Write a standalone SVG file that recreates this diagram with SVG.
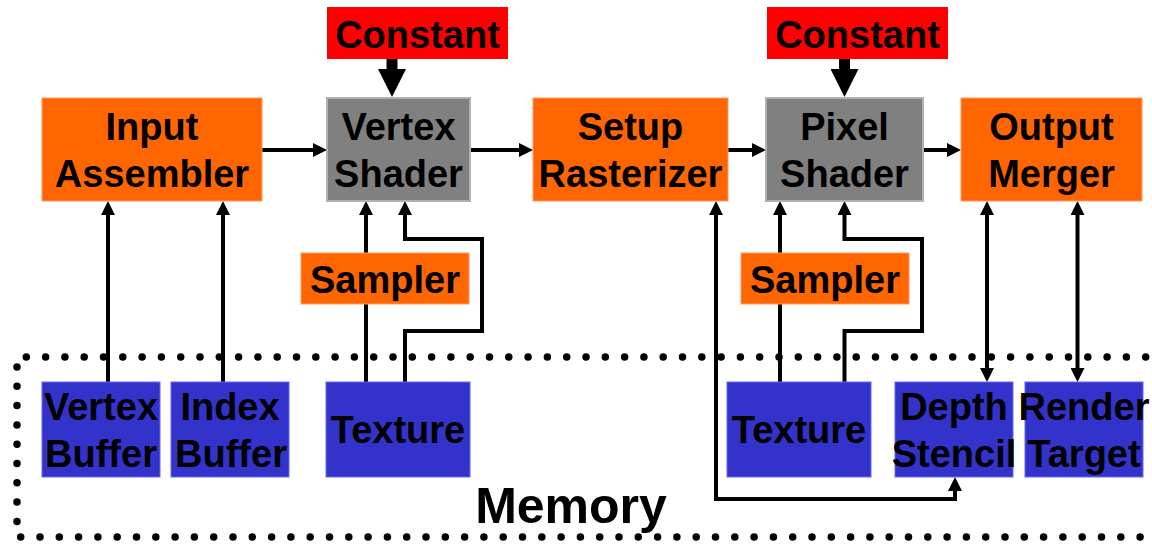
<svg xmlns="http://www.w3.org/2000/svg" width="1152" height="545" viewBox="0 0 1152 545">
<style>
  text { font-family: "Liberation Sans", Arial, sans-serif; font-weight: bold; font-size: 38px; fill: #000; text-anchor: middle; }
  .orange { fill: #FF6600; stroke: #FF9966; stroke-width: 1; }
  .gray { fill: #808080; stroke: #B0B0B0; stroke-width: 2; }
  .red { fill: #FF0000; }
  .blue { fill: #3333CC; stroke: #6666EE; stroke-width: 1; }
  .conn { fill: none; stroke: #000; stroke-width: 4; }
  .thick { fill: none; stroke: #000; stroke-width: 11; }
  .memory { fill: none; stroke: #000; stroke-width: 7.5; stroke-linecap: round; stroke-dasharray: 0 19.3; }
</style>
<defs>
  <marker id="arr" markerUnits="userSpaceOnUse" markerWidth="14" markerHeight="14" refX="4" refY="7" orient="auto-start-reverse">
    <path d="M0,0 L14,7 L0,14 z" fill="#000"/>
  </marker>
  <marker id="bigArr" markerUnits="userSpaceOnUse" markerWidth="28" markerHeight="28" refX="1" refY="14" orient="auto">
    <path d="M0,0 L28,14 L0,28 z" fill="#000"/>
  </marker>
</defs>
<rect width="1152" height="545" fill="#fff"/>

<g id="memory">
  <path class="memory" d="M1165,357 H17 V537 H1165"/>
  <text x="571" y="523" style="font-size:50px">Memory</text>
</g>

<g id="connectors">
  <path class="conn" d="M262,150 H317" marker-end="url(#arr)"/>
  <path class="conn" d="M470,150 H523" marker-end="url(#arr)"/>
  <path class="conn" d="M728,150 H756" marker-end="url(#arr)"/>
  <path class="conn" d="M923,150 H951" marker-end="url(#arr)"/>
  <path class="conn" d="M108,382 V211" marker-end="url(#arr)"/>
  <path class="conn" d="M223,382 V211" marker-end="url(#arr)"/>
  <path class="conn" d="M366,382 V211" marker-end="url(#arr)"/>
  <path class="conn" d="M405,382 V331 H482 V239 H405 V211" marker-end="url(#arr)"/>
  <path class="conn" d="M780,382 V211" marker-end="url(#arr)"/>
  <path class="conn" d="M844.5,382 V331 H922 V239 H844.5 V211" marker-end="url(#arr)"/>
  <path class="conn" d="M716,211 V499 H955 V487" marker-start="url(#arr)" marker-end="url(#arr)"/>
  <path class="conn" d="M987,211 V372" marker-start="url(#arr)" marker-end="url(#arr)"/>
  <path class="conn" d="M1077.5,211 V372" marker-start="url(#arr)" marker-end="url(#arr)"/>
  <path class="thick" d="M392,59 V70" marker-end="url(#bigArr)"/>
  <path class="thick" d="M844.5,59 V70" marker-end="url(#bigArr)"/>
</g>

<g id="constant1">
  <rect class="red" x="327" y="7" width="181" height="52"/>
  <text x="417.5" y="48">Constant</text>
</g>
<g id="constant2">
  <rect class="red" x="767" y="7" width="181" height="52"/>
  <text x="857.5" y="48">Constant</text>
</g>

<g id="input-assembler">
  <rect class="orange" x="42" y="98" width="220" height="103"/>
  <text x="152" y="140">Input</text>
  <text x="152" y="187">Assembler</text>
</g>
<g id="vertex-shader">
  <rect class="gray" x="327" y="98" width="143" height="103"/>
  <text x="398.5" y="140">Vertex</text>
  <text x="398.5" y="187">Shader</text>
</g>
<g id="setup-rasterizer">
  <rect class="orange" x="533" y="98" width="195" height="103"/>
  <text x="630.5" y="140">Setup</text>
  <text x="630.5" y="187">Rasterizer</text>
</g>
<g id="pixel-shader">
  <rect class="gray" x="766" y="98" width="157" height="103"/>
  <text x="844.5" y="140">Pixel</text>
  <text x="844.5" y="187">Shader</text>
</g>
<g id="output-merger">
  <rect class="orange" x="961" y="98" width="181" height="103"/>
  <text x="1051.5" y="140">Output</text>
  <text x="1051.5" y="187">Merger</text>
</g>

<g id="sampler1">
  <rect class="orange" x="301" y="253" width="168" height="51"/>
  <text x="385" y="293">Sampler</text>
</g>
<g id="sampler2">
  <rect class="orange" x="741" y="253" width="168" height="51"/>
  <text x="825" y="293">Sampler</text>
</g>

<g id="vertex-buffer">
  <rect class="blue" x="42" y="382" width="118" height="95"/>
  <text x="101" y="420">Vertex</text>
  <text x="101" y="467">Buffer</text>
</g>
<g id="index-buffer">
  <rect class="blue" x="171" y="382" width="118" height="95"/>
  <text x="230" y="420">Index</text>
  <text x="231" y="467">Buffer</text>
</g>
<g id="texture1">
  <rect class="blue" x="326" y="382" width="144" height="95"/>
  <text x="398" y="443">Texture</text>
</g>
<g id="texture2">
  <rect class="blue" x="727" y="382" width="144" height="95"/>
  <text x="799" y="443">Texture</text>
</g>
<g id="depth-stencil">
  <rect class="blue" x="895" y="382" width="118" height="95"/>
  <text x="954" y="420">Depth</text>
  <text x="954" y="467">Stencil</text>
</g>
<g id="render-target">
  <rect class="blue" x="1025" y="382" width="118" height="95"/>
  <text x="1084" y="420">Render</text>
  <text x="1084" y="467">Target</text>
</g>
</svg>
